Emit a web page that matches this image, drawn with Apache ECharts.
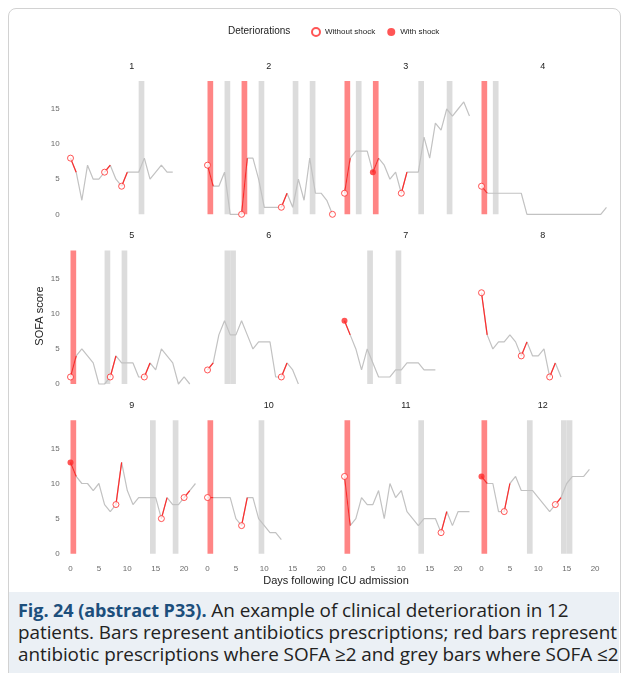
<!DOCTYPE html>
<html>
<head>
<meta charset="utf-8">
<script src="https://cdn.jsdelivr.net/npm/echarts@6/dist/echarts.min.js"></script>
<style>
    html, body {margin: 0; padding: 0; background: #fff;}
    #frame {position: absolute; left: 8px; top: 8px; width: 611px; height: 700px; border: 1px solid #d2d2d2; border-radius: 8px;}
    #chart {position: absolute; left: 0; top: 0; width: 628px; height: 592px;}
    #caption {position: absolute; left: 9px; top: 592px; width: 610px; height: 90px; background: #ebf0f5;
        font-family: "Open Sans"; font-size: 18.9px; line-height: 22px; color: #222;
        padding: 7px 0 0 9px; box-sizing: border-box; white-space: nowrap; letter-spacing: -0.05px;}
    #caption b {color: #1d4f7c; font-size: 18px;}
</style>
</head>
<body>
<div id="frame"></div>
<div id="chart"></div>
<div id="caption"><b>Fig. 24 (abstract P33).</b> An example of clinical deterioration in 12<br>patients. Bars represent antibiotics prescriptions; red bars represent<br>antibiotic prescriptions where SOFA ≥2 and grey bars where SOFA ≤2</div>
<script>
// SOFA score per day (day 0 = ICU admission), one list per patient
var sofaScores = [
    [8, 6, 2, 7, 5, 5, 6, 7, 5, 4, 6, 6, 6, 8, 5, 6, 7, 6, 6],
    [7, 4, 4, 6, 0, 0, 0, 8, 8, 5, 1, 1, 1, 1, 3, 1, 5, 2, 8, 3, 3, 2, 0],
    [3, 8, 9, 9, 9, 6, 8, 7, 5, 6, 3, 6, 6, 6, 11, 8, 13, 12, 15, 14, 15, 16, 14],
    [4, 3, 3, 3, 3, 3, 3, 3, 0, 0, 0, 0, 0, 0, 0, 0, 0, 0, 0, 0, 0, 0, 1],
    [1, 4, 5, 4, 3, 0, 0, 1, 4, 3, 3, 3, 1, 1, 3, 2, 5, 4, 3, 0, 1, 0],
    [2, 3, 7, 9, 7, 7, 9, 7, 5, 6, 6, 6, 1, 1, 3, 2, 0],
    [9, 7, 5, 2, 5, 3, 1, 1, 1, 2, 2, 3, 3, 3, 2, 2, 2],
    [13, 7, 5, 6, 6, 7, 6, 4, 6, 4, 4, 5, 1, 3, 1],
    [13, 11, 10, 10, 9, 10, 7, 6, 7, 13, 9, 7, 8, 8, 8, 8, 5, 8, 7, 7, 8, 9, 10],
    [8, 8, 8, 8, 8, 5, 4, 8, 8, 5, 4, 3, 3, 2],
    [11, 4, 5, 8, 7, 7, 9, 5, 10, 8, 9, 6, 5, 4, 5, 5, 5, 3, 6, 4, 6, 6, 6],
    [11, 10, 10, 6, 6, 10, 11, 9, 9, 9, 8, 7, 6, 7, 8, 10, 11, 11, 11, 12]
];
// days of deterioration
var withoutShockDays = [[0, 6, 9], [0, 6, 13, 22], [0, 10], [0], [0, 7, 13], [0, 13], [], [0, 7, 12], [8, 16, 20], [0, 6], [0, 17], [4, 13]];
var withShockDays = [[], [], [5], [], [], [], [0], [], [0], [], [], [0]];
// antibiotic prescriptions (start day, one day long)
var redBarDays = [[], [0, 6], [0, 5], [0], [0], [], [], [], [0], [0], [0], [0]];
var greyBarDays = [[12], [3, 9, 15, 18], [2, 13, 18], [2], [6, 9], [3, 4], [4, 9], [], [14, 18], [9], [13], [8, 14, 15]];
var barTop = 19;
var xTicks = [0, 5, 10, 15, 20];
var yTicks = [0, 5, 10, 15];
var panelNames = ['1', '2', '3', '4', '5', '6', '7', '8', '9', '10', '11', '12'];

var RED = '#ff2b2b';
var FONT = '"Liberation Sans", Arial, sans-serif';
var colX0 = [70.5, 207.5, 344.5, 481.5];
var rowY0 = [214.3, 384, 553.7];
var pxDay = 5.68, pxUnit = 7.02;
var xMin = -1.2, xMax = 22.8, yMin = -1, yMax = 19.5;

var chart = echarts.init(document.getElementById('chart'));

var grids = [], xAxes = [], yAxes = [], series = [], graphics = [];

function barSeries(i, days, color) {
    return {
        type: 'custom', xAxisIndex: i, yAxisIndex: i, z: 1, silent: true,
        data: days.map(function (d) { return [d, d + 1, 0, barTop]; }),
        encode: {x: [0, 1], y: [2, 3]},
        renderItem: function (params, api) {
            var p0 = api.coord([api.value(0), api.value(2)]);
            var p1 = api.coord([api.value(1), api.value(3)]);
            return {type: 'rect', shape: {x: p0[0], y: p1[1], width: p1[0] - p0[0], height: p0[1] - p1[1]},
                style: {fill: color}};
        }
    };
}

for (var i = 0; i < 12; i++) {
    var r = Math.floor(i / 4), c = i % 4;
    var v = sofaScores[i];
    grids.push({
        left: colX0[c] + xMin * pxDay, width: (xMax - xMin) * pxDay,
        top: rowY0[r] - yMax * pxUnit, height: (yMax - yMin) * pxUnit
    });
    xAxes.push({
        type: 'value', gridIndex: i, min: xMin, max: xMax,
        axisLine: {show: false}, axisTick: {show: false}, splitLine: {show: false},
        axisLabel: {show: r === 2, customValues: xTicks, margin: 4, fontSize: 8, color: '#6b6b6b', fontFamily: FONT}
    });
    yAxes.push({
        type: 'value', gridIndex: i, min: yMin, max: yMax,
        axisLine: {show: false}, axisTick: {show: false}, splitLine: {show: false},
        axisLabel: {show: c === 0, customValues: yTicks, margin: 4, fontSize: 8, color: '#6b6b6b', fontFamily: FONT}
    });

    series.push(barSeries(i, greyBarDays[i], '#dcdcdc'));
    series.push(barSeries(i, redBarDays[i], '#ff8585'));

    series.push({
        type: 'line', xAxisIndex: i, yAxisIndex: i, z: 2, silent: true, clip: false,
        symbol: 'none', data: v.map(function (s, d) { return [d, s]; }),
        lineStyle: {color: '#c2c2c2', width: 1.2}
    });

    var events = withoutShockDays[i].concat(withShockDays[i]);
    events.forEach(function (d) {
        if (d + 1 < v.length) {
            series.push({
                type: 'line', xAxisIndex: i, yAxisIndex: i, z: 3, silent: true, clip: false,
                symbol: 'none', data: [[d, v[d]], [d + 1, v[d + 1]]],
                lineStyle: {color: RED, width: 1.2}
            });
        }
    });

    series.push({
        name: 'Without shock', type: 'scatter', xAxisIndex: i, yAxisIndex: i, z: 4, clip: false,
        symbol: 'circle', symbolSize: 6,
        data: withoutShockDays[i].map(function (d) { return [d, v[d]]; }),
        itemStyle: {color: '#fff', borderColor: RED, borderWidth: 1}
    });
    series.push({
        name: 'With shock', type: 'scatter', xAxisIndex: i, yAxisIndex: i, z: 4, clip: false,
        symbol: 'circle', symbolSize: 6,
        data: withShockDays[i].map(function (d) { return [d, v[d]]; }),
        itemStyle: {color: RED}
    });

    graphics.push({
        type: 'text', x: colX0[c] + 10.8 * pxDay, y: rowY0[r] - 148,
        style: {text: panelNames[i], fontSize: 9, fontFamily: FONT, fill: '#222', align: 'center', verticalAlign: 'middle'}
    });
}

graphics.push({
    type: 'text', x: 40, y: 316, rotation: Math.PI / 2,
    style: {text: 'SOFA score', fontSize: 11, fontFamily: FONT, fill: '#222', align: 'center', verticalAlign: 'middle'}
});
graphics.push({
    type: 'text', x: 336, y: 581,
    style: {text: 'Days following ICU admission', fontSize: 11, fontFamily: FONT, fill: '#222', align: 'center', verticalAlign: 'middle'}
});
graphics.push({
    type: 'text', x: 228, y: 31,
    style: {text: 'Deteriorations', fontSize: 10, fontFamily: FONT, fill: '#222', align: 'left', verticalAlign: 'middle'}
});

var option = {
    animation: false,
    legend: {
        data: ['Without shock', 'With shock'],
        left: 311, top: 27, padding: 0, icon: 'circle', itemWidth: 8, itemHeight: 8, itemGap: 12,
        textStyle: {fontSize: 8, color: '#222', fontFamily: FONT}
    },
    grid: grids,
    xAxis: xAxes,
    yAxis: yAxes,
    graphic: graphics,
    series: series
};

chart.setOption(option);
</script>
</body>
</html>
